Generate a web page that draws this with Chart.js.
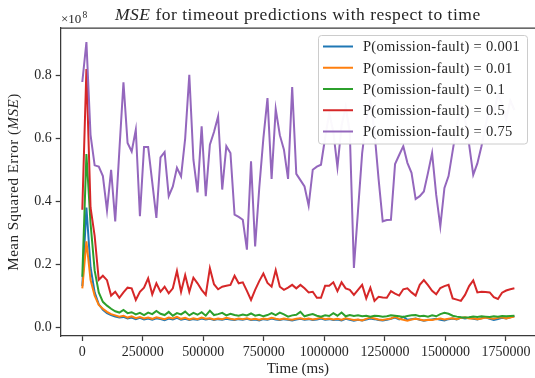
<!DOCTYPE html>
<html>
<head>
<meta charset="utf-8">
<script src="https://cdn.jsdelivr.net/npm/chart.js@4/dist/chart.umd.min.js"></script>
<style>
  html, body { margin: 0; padding: 0; background: #fff; overflow: hidden; }
  #wrap { width: 535px; height: 378px; overflow: hidden; }
</style>
</head>
<body>
<div id="wrap"><canvas id="mseChart" width="536" height="378"></canvas></div>
<script>
// sampling interval of the prediction runs (ms)
const sampleMs = 17000;

const faultProbs = ['0.001', '0.01', '0.1', '0.5', '0.75'];

// MSE per sample, in units of 1e8
const mseP001 = [
  0.130, 0.380, 0.190, 0.110, 0.072, 0.055, 0.044, 0.038, 0.033, 0.030,
  0.032, 0.027, 0.030, 0.025, 0.029, 0.024, 0.027, 0.023, 0.028, 0.025,
  0.022, 0.027, 0.024, 0.029, 0.023, 0.026, 0.022, 0.025, 0.023, 0.027,
  0.024, 0.026, 0.022, 0.025, 0.023, 0.026, 0.024, 0.022, 0.025, 0.023,
  0.026, 0.022, 0.024, 0.021, 0.025, 0.023, 0.027, 0.024, 0.022, 0.025,
  0.023, 0.021, 0.024, 0.026, 0.023, 0.025, 0.022, 0.024, 0.027, 0.023,
  0.025, 0.022, 0.024, 0.021, 0.026, 0.023, 0.020, 0.023, 0.021, 0.024,
  0.027, 0.025, 0.022, 0.021, 0.023, 0.026, 0.030, 0.024, 0.033, 0.023,
  0.025, 0.027, 0.023, 0.020, 0.022, 0.024, 0.026, 0.023, 0.021, 0.025,
  0.027, 0.024, 0.030, 0.027, 0.029, 0.026, 0.024, 0.028, 0.031, 0.026,
  0.022, 0.025, 0.029, 0.027, 0.031, 0.035
];
const mseP01 = [
  0.123, 0.272, 0.150, 0.100, 0.070, 0.058, 0.048, 0.041, 0.037, 0.033,
  0.036, 0.030, 0.034, 0.028, 0.032, 0.027, 0.030, 0.026, 0.031, 0.028,
  0.025, 0.030, 0.027, 0.032, 0.026, 0.029, 0.024, 0.028, 0.025, 0.030,
  0.026, 0.028, 0.024, 0.027, 0.025, 0.029, 0.026, 0.024, 0.027, 0.025,
  0.028, 0.024, 0.026, 0.023, 0.027, 0.025, 0.029, 0.026, 0.024, 0.027,
  0.025, 0.023, 0.026, 0.028, 0.025, 0.027, 0.024, 0.026, 0.029, 0.025,
  0.027, 0.024, 0.026, 0.023, 0.028, 0.025, 0.022, 0.024, 0.021, 0.026,
  0.030, 0.027, 0.024, 0.022, 0.025, 0.027, 0.032, 0.026, 0.023, 0.020,
  0.024, 0.026, 0.024, 0.021, 0.023, 0.022, 0.025, 0.027, 0.024, 0.026,
  0.028, 0.025, 0.029, 0.031, 0.027, 0.028, 0.025, 0.027, 0.030, 0.028,
  0.026, 0.029, 0.031, 0.027, 0.030, 0.033
];
const mseP1 = [
  0.160, 0.550, 0.330, 0.180, 0.110, 0.080, 0.068, 0.058, 0.050, 0.046,
  0.054, 0.044, 0.047, 0.040, 0.045, 0.038, 0.046, 0.041, 0.051, 0.042,
  0.038, 0.048, 0.036, 0.044, 0.040, 0.049, 0.037, 0.045, 0.039, 0.047,
  0.036, 0.052, 0.038, 0.041, 0.045, 0.037, 0.042, 0.038, 0.036, 0.040,
  0.037, 0.043, 0.036, 0.039, 0.034, 0.038, 0.044, 0.038, 0.046, 0.040,
  0.033, 0.037, 0.039, 0.048, 0.034, 0.038, 0.041, 0.036, 0.033, 0.037,
  0.035, 0.044, 0.036, 0.046, 0.034, 0.038, 0.035, 0.037, 0.034, 0.036,
  0.033, 0.036, 0.035, 0.033, 0.034, 0.037, 0.036, 0.034, 0.032, 0.035,
  0.037, 0.038, 0.034, 0.036, 0.033, 0.037, 0.034, 0.041, 0.045, 0.042,
  0.036, 0.033, 0.031, 0.030, 0.031, 0.033, 0.032, 0.034, 0.033, 0.032,
  0.034, 0.033, 0.035, 0.034, 0.035, 0.036
];
const mseP5 = [
  0.373, 0.820, 0.380, 0.290, 0.150, 0.163, 0.149, 0.100, 0.112, 0.093,
  0.110, 0.125, 0.123, 0.086, 0.112, 0.125, 0.155, 0.104, 0.139, 0.112,
  0.128, 0.107, 0.123, 0.178, 0.112, 0.165, 0.112, 0.157, 0.139, 0.118,
  0.102, 0.187, 0.136, 0.120, 0.128, 0.131, 0.134, 0.163, 0.139, 0.142,
  0.115, 0.086, 0.118, 0.146, 0.170, 0.140, 0.128, 0.181, 0.128, 0.118,
  0.125, 0.134, 0.123, 0.134, 0.123, 0.110, 0.112, 0.093, 0.093, 0.131,
  0.131, 0.142, 0.114, 0.142, 0.123, 0.118, 0.102, 0.118, 0.134, 0.091,
  0.125, 0.083, 0.096, 0.094, 0.093, 0.114, 0.106, 0.100, 0.120, 0.123,
  0.110, 0.100, 0.134, 0.149, 0.133, 0.115, 0.104, 0.124, 0.130, 0.134,
  0.091, 0.087, 0.083, 0.102, 0.130, 0.148, 0.110, 0.112, 0.111, 0.110,
  0.095, 0.089, 0.109, 0.116, 0.120, 0.123
];
const mseP75 = [
  0.779, 0.906, 0.611, 0.514, 0.510, 0.480, 0.371, 0.500, 0.336, 0.560,
  0.778, 0.585, 0.558, 0.627, 0.352, 0.572, 0.572, 0.460, 0.347, 0.539,
  0.556, 0.416, 0.447, 0.506, 0.479, 0.600, 0.802, 0.532, 0.428, 0.638,
  0.416, 0.580, 0.620, 0.670, 0.437, 0.575, 0.553, 0.357, 0.350, 0.341,
  0.246, 0.527, 0.256, 0.442, 0.600, 0.728, 0.471, 0.693, 0.610, 0.564,
  0.471, 0.763, 0.487, 0.467, 0.447, 0.386, 0.500, 0.510, 0.516, 0.601,
  0.680, 0.620, 0.508, 0.640, 0.700, 0.620, 0.188, 0.370, 0.552, 0.660,
  0.720, 0.620, 0.470, 0.336, 0.340, 0.341, 0.518, 0.547, 0.575, 0.522,
  0.490, 0.407, 0.416, 0.431, 0.490, 0.553, 0.420, 0.320, 0.442, 0.480,
  0.560, 0.640, 0.700, 0.660, 0.580, 0.484, 0.520, 0.575, 0.640, 0.700,
  0.680, 0.740, 0.710, 0.660, 0.720, 0.690
];

const xTicks = [0, 250000, 500000, 750000, 1000000, 1250000, 1500000, 1750000];
const yTicks = [0.0, 0.2, 0.4, 0.6, 0.8];

const seriesValues = [mseP001, mseP01, mseP1, mseP5, mseP75];
const lineColors = ['#1f77b4', '#ff7f0e', '#2ca02c', '#d62728', '#9467bd'];

const times = mseP001.map((_, i) => i * sampleMs);
const serif = '"Liberation Serif", "Times New Roman", serif';
const ink = '#262626';
const spine = '#3a3a3a';

const datasets = seriesValues.map((vals, k) => ({
  label: 'P(omission-fault) = ' + faultProbs[k],
  data: vals.map((v, i) => ({ x: times[i], y: v })),
  borderColor: lineColors[k],
  backgroundColor: lineColors[k],
  borderWidth: 2,
  pointRadius: 0,
  tension: 0,
  order: seriesValues.length - k   // later series on top
}));

// text made of upright / italic pieces, centred on cx
function drawRuns(ctx, runs, cx, y, size, spacing) {
  ctx.letterSpacing = spacing + 'px';
  let total = 0;
  runs.forEach(r => {
    ctx.font = (r.italic ? 'italic ' : '') + size + 'px ' + serif;
    r.w = ctx.measureText(r.t).width;
    total += r.w;
  });
  let x = cx - total / 2;
  ctx.textAlign = 'left';
  runs.forEach(r => {
    ctx.font = (r.italic ? 'italic ' : '') + size + 'px ' + serif;
    ctx.fillText(r.t, x, y);
    x += r.w;
  });
  ctx.letterSpacing = '0px';
}

const framePlugin = {
  id: 'frame',
  afterDatasetsDraw(chart) {
    const { ctx, chartArea: a } = chart;
    ctx.save();
    ctx.strokeStyle = spine;
    ctx.lineWidth = 1.25;
    ctx.beginPath();
    ctx.moveTo(a.left, a.top);
    ctx.lineTo(a.right, a.top);
    ctx.lineTo(a.right, a.bottom);
    ctx.stroke();
    ctx.restore();
  }
};

const legendPlugin = {
  id: 'boxLegend',
  afterDatasetsDraw(chart) {
    const ctx = chart.ctx;
    const bx = 318.5, by = 35.5, bw = 209, bh = 108.5;
    ctx.save();
    ctx.beginPath();
    ctx.roundRect(bx, by, bw, bh, 3);
    ctx.fillStyle = 'rgba(255,255,255,0.96)';
    ctx.fill();
    ctx.strokeStyle = '#cccccc';
    ctx.lineWidth = 1;
    ctx.stroke();
    ctx.font = '14.5px ' + serif;
    ctx.letterSpacing = '0.3px';
    ctx.textBaseline = 'middle';
    ctx.fillStyle = ink;
    chart.data.datasets.forEach((ds, i) => {
      const ry = 46.5 + i * 21.25;
      ctx.strokeStyle = ds.borderColor;
      ctx.lineWidth = 2;
      ctx.beginPath();
      ctx.moveTo(323, ry);
      ctx.lineTo(353, ry);
      ctx.stroke();
      ctx.fillText(ds.label, 363, ry + 1);
    });
    ctx.restore();
  }
};

const labelsPlugin = {
  id: 'labels',
  afterDraw(chart) {
    const { ctx, chartArea: a } = chart;
    const cx = (a.left + 535) / 2;
    ctx.save();
    ctx.fillStyle = ink;
    ctx.textBaseline = 'alphabetic';
    drawRuns(ctx, [{ t: 'MSE', italic: true }, { t: ' for timeout predictions with respect to time' }], cx, 19.5, 17.5, 0.5);
    drawRuns(ctx, [{ t: 'Time (ms)' }], cx, 373, 15, 0);

    // offset label of the y axis
    ctx.textAlign = 'left';
    ctx.font = '13px ' + serif;
    ctx.fillText('\u00d710', 61, 23);
    ctx.font = '9.5px ' + serif;
    ctx.fillText('8', 82.5, 18);

    ctx.translate(18, (a.top + a.bottom) / 2);
    ctx.rotate(-Math.PI / 2);
    drawRuns(ctx, [{ t: 'Mean Squared Error (' }, { t: 'MSE', italic: true }, { t: ')' }], 0, 0, 15, 0.5);
    ctx.restore();
  }
};

new Chart(document.getElementById('mseChart'), {
  type: 'line',
  data: { datasets },
  options: {
    responsive: false,
    animation: false,
    devicePixelRatio: 1,
    layout: { padding: { top: 28, left: 0, right: 0, bottom: 0 } },
    plugins: { legend: { display: false }, tooltip: { enabled: false }, title: { display: false } },
    scales: {
      x: {
        type: 'linear',
        min: -89250,
        max: 1874250,
        afterFit: s => { s.height = 42; },
        afterBuildTicks: s => { s.ticks = xTicks.map(v => ({ value: v })); },
        grid: { drawOnChartArea: false, drawTicks: true, tickLength: 5, tickWidth: 1.25, tickColor: spine },
        border: { display: true, color: spine, width: 1.25 },
        ticks: {
          color: ink, padding: 3, maxRotation: 0, autoSkip: false,
          font: { family: serif, size: 14 },
          callback: v => String(v)
        }
      },
      y: {
        min: -0.0286,
        max: 0.9507,
        afterFit: s => { s.width = 60.7; },
        afterBuildTicks: s => { s.ticks = yTicks.map(v => ({ value: v })); },
        grid: { drawOnChartArea: false, drawTicks: true, tickLength: 5, tickWidth: 1.25, tickColor: spine },
        border: { display: true, color: spine, width: 1.25 },
        ticks: {
          color: ink, padding: 4,
          font: { family: serif, size: 14 },
          callback: v => v.toFixed(1)
        }
      }
    }
  },
  plugins: [framePlugin, legendPlugin, labelsPlugin]
});
</script>
</body>
</html>
